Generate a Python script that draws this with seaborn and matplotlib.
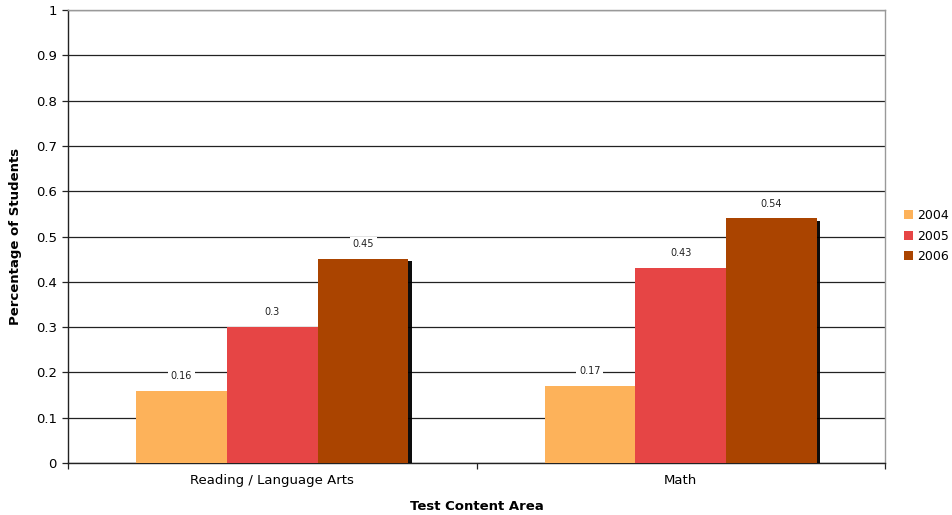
import numpy as np
import pandas as pd
import matplotlib
matplotlib.use("Agg")
import matplotlib.pyplot as plt
import matplotlib.patheffects as pe
import seaborn as sns

areas = ["Reading / Language Arts", "Math"]
years = ["2004", "2005", "2006"]
values = {
    "2004": [0.16, 0.17],
    "2005": [0.30, 0.43],
    "2006": [0.45, 0.54],
}
colors = ["#FDB25A", "#E64545", "#AA4400"]

rows = []
for y in years:
    for a, v in zip(areas, values[y]):
        rows.append({"area": a, "year": y, "pct": v})
df = pd.DataFrame(rows)

sns.set_style("white")
plt.rcParams["font.family"] = ["DejaVu Sans"]
plt.rcParams["text.color"] = "black"
plt.rcParams["xtick.color"] = "black"
plt.rcParams["ytick.color"] = "black"
plt.rcParams["axes.labelcolor"] = "black"

fig = plt.figure(figsize=(9.52, 5.15), dpi=100, facecolor="white")
ax = fig.add_axes([68 / 952, 1 - 463 / 515, (885 - 68) / 952, (463 - 10) / 515])

sns.barplot(data=df, x="area", y="pct", hue="year", palette=colors, width=0.667,
            saturation=1, gap=0, ax=ax, legend=False, zorder=3)

for bar in ax.patches:
    bar.set_edgecolor("none")
    bar.set_path_effects([pe.SimplePatchShadow(offset=(2.2, -1.6), shadow_rgbFace="black", alpha=0.95),
                          pe.Normal()])

for cont in ax.containers:
    labs = [f"{v:g}" for v in cont.datavalues]
    ax.bar_label(cont, labels=labs, padding=7, fontsize=7, color="#222222",
                 bbox=dict(facecolor="white", edgecolor="none", pad=2), zorder=5)

ax.set_ylim(0, 1)
ax.set_xlim(-0.5, 1.5)
ax.set_yticks(np.arange(0, 1.01, 0.1))
ax.set_yticklabels(["0"] + [f"{t:.1f}" for t in np.arange(0.1, 0.95, 0.1)] + ["1"], fontsize=9.5)
ax.yaxis.grid(True, color="#222222", linewidth=0.9, zorder=0)
ax.set_axisbelow(True)
ax.tick_params(axis="y", length=4, width=0.9, color="#222222", direction="out", left=True, pad=4)
ax.tick_params(axis="x", length=0, labelsize=9.5, pad=8)
ax.set_xticks([0, 1])
ax.set_xticklabels(areas)
# category separator ticks on x axis
ax.set_xticks([-0.5, 0.5, 1.5], minor=True)
ax.tick_params(axis="x", which="minor", length=4, width=0.9, color="#222222", direction="out", bottom=True)

for side in ["top", "right"]:
    ax.spines[side].set_visible(True)
    ax.spines[side].set_color("#999999")
    ax.spines[side].set_linewidth(1)
for side in ["left", "bottom"]:
    ax.spines[side].set_color("#222222")
    ax.spines[side].set_linewidth(1)

ax.set_xlabel("Test Content Area", fontsize=9.5, fontweight="bold", labelpad=9)
ax.set_ylabel("Percentage of Students", fontsize=9.5, fontweight="bold", labelpad=10)

handles = [plt.Rectangle((0, 0), 1, 1, facecolor=c, edgecolor="none") for c in colors]
fig.legend(handles, years, loc="center left", bbox_to_anchor=(904 / 952, 1 - 236 / 515),
           frameon=False, fontsize=9, handlelength=0.7, handleheight=0.7,
           handletextpad=0.35, labelspacing=0.6, borderpad=0, borderaxespad=0)

fig.savefig("out.png", dpi=100, facecolor="white")
